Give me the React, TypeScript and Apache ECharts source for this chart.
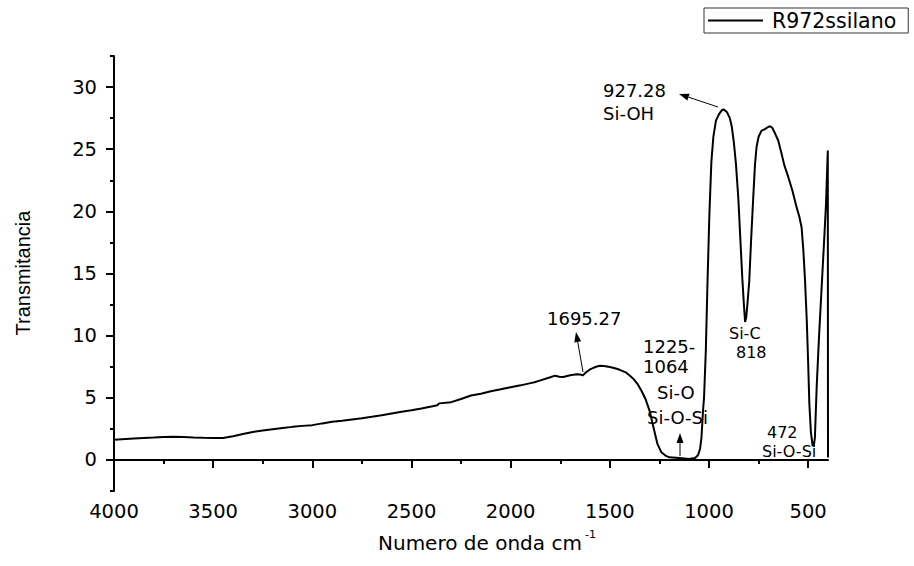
import React, { useEffect, useRef } from "react";
import * as echarts from "echarts";

// Wavenumber (cm-1) and transmittance
const wavenumbers: number[] = [
  4000, 3900, 3800, 3750, 3700, 3650, 3600, 3550, 3500, 3450, 3400, 3350, 3300, 3250, 3200, 3150,
  3100, 3050, 3000, 2950, 2900, 2850, 2800, 2750, 2700, 2650, 2600, 2550, 2500, 2450, 2400, 2370,
  2360, 2300, 2250, 2200, 2150, 2100, 2050, 2000, 1950, 1900, 1880, 1850, 1820, 1800, 1776, 1755,
  1735, 1700, 1667, 1650, 1637, 1620, 1600, 1591, 1570, 1550, 1530, 1500, 1470, 1450, 1420, 1400,
  1380, 1360, 1340, 1320, 1300, 1280, 1260, 1240, 1220, 1200, 1150, 1100, 1070, 1055, 1045, 1038,
  1030, 1025, 1016, 1008, 998, 988, 978, 965, 950, 935, 925, 910, 895, 885, 875, 864,
  852, 842, 832, 824, 818, 812, 806, 797, 788, 777, 768, 760, 750, 735, 720, 705,
  692, 680, 665, 651, 635, 620, 600, 580, 558, 545, 533, 524, 516, 507, 500, 494,
  486, 478, 472, 466, 457, 445, 432, 420, 410, 401, 400,
];
const transmittance: number[] = [
  1.63, 1.72, 1.8, 1.85, 1.86, 1.84, 1.8, 1.78, 1.77, 1.76, 1.9, 2.08, 2.25, 2.36, 2.46, 2.56,
  2.66, 2.74, 2.8, 2.94, 3.07, 3.16, 3.26, 3.36, 3.47, 3.6, 3.74, 3.88, 4.0, 4.14, 4.3, 4.4,
  4.55, 4.65, 4.9, 5.18, 5.33, 5.52, 5.68, 5.85, 6.0, 6.18, 6.25, 6.4, 6.55, 6.65, 6.78, 6.7,
  6.68, 6.82, 6.9, 6.88, 6.8, 7.05, 7.28, 7.35, 7.5, 7.58, 7.55, 7.47, 7.35, 7.25, 7.05, 6.8,
  6.5, 6.1, 5.55, 4.9, 3.97, 2.63, 1.29, 0.61, 0.35, 0.21, 0.16, 0.08, 0.16, 0.4, 0.9, 1.8,
  4.0, 5.0, 8.8, 14.0, 19.8, 24.0, 26.0, 27.3, 27.8, 28.15, 28.2, 28.0, 27.5, 26.8, 25.6, 23.8,
  21.0, 17.8, 14.6, 12.5, 11.1, 11.5, 12.6, 14.4, 17.6, 21.1, 23.8, 25.2, 26.0, 26.5, 26.6, 26.75,
  26.85, 26.7, 26.2, 25.7, 24.7, 23.7, 22.75, 21.7, 20.3, 19.6, 18.7, 16.8, 14.5, 11.2, 7.8, 4.5,
  2.2, 1.2, 1.1, 1.8, 5.9, 10.0, 13.9, 17.5, 20.6, 24.9, 0.2,
];

const seriesName = "R972ssilano";
const xMajorTicks: number[] = [4000, 3500, 3000, 2500, 2000, 1500, 1000, 500];
const xMinorTicks: number[] = [3750, 3250, 2750, 2250, 1750, 1250, 750];
const yMajorTicks: number[] = [0, 5, 10, 15, 20, 25, 30];
const yMinorTicks: number[] = [-2.5, 2.5, 7.5, 12.5, 17.5, 22.5, 27.5, 32.5];

const FONT = "DejaVu Sans";

function arrow(x1: number, y1: number, x2: number, y2: number) {
  const dx = x2 - x1;
  const dy = y2 - y1;
  const len = Math.hypot(dx, dy);
  const ux = dx / len;
  const uy = dy / len;
  const hl = 10;
  const hw = 3.5;
  const bx = x2 - ux * hl;
  const by = y2 - uy * hl;
  const nx = -uy;
  const ny = ux;
  return {
    type: "group",
    children: [
      { type: "line", shape: { x1, y1, x2: bx, y2: by }, style: { stroke: "#000", lineWidth: 1 } },
      {
        type: "polygon",
        shape: { points: [[x2, y2], [bx + nx * hw, by + ny * hw], [bx - nx * hw, by - ny * hw]] },
        style: { fill: "#000" },
      },
    ],
  };
}

function label(text: string, x: number, y: number, size = 18, font = FONT) {
  return {
    type: "text",
    x,
    y,
    style: { text, fill: "#000", font: `${size}px "${font}"`, align: "left", verticalAlign: "middle" },
  };
}

export default function App() {
  const ref = useRef<HTMLDivElement>(null);
  useEffect(() => {
    if (!ref.current) return;
    const chart = echarts.init(ref.current, undefined, { renderer: "svg" });
    const data = wavenumbers.map((w, i) => [w, transmittance[i]]);
    const axisCommon = {
      type: "value",
      splitLine: { show: false },
    };
    chart.setOption({
      animation: false,
      backgroundColor: "#fff",
      grid: { left: 114, right: 86, top: 56, bottom: 75 },
      legend: {
        left: 704,
        top: 8,
        padding: [2, 12, 2, 4],
        borderColor: "#333",
        borderWidth: 1,
        itemWidth: 55,
        itemHeight: 2,
        icon: "rect",
        data: [{ name: seriesName, itemStyle: { color: "#000" } }],
        textStyle: { fontFamily: FONT, fontSize: 20.5, color: "#000", padding: [0, 0, 0, 4] },
      },
      xAxis: [
        {
          ...axisCommon,
          min: 400,
          max: 4000,
          inverse: true,
          position: "bottom",
          axisLine: { show: true, lineStyle: { color: "#000", width: 2 } },
          axisTick: { show: true, length: 8, lineStyle: { color: "#000", width: 2 }, customValues: xMajorTicks },
          axisLabel: {
            color: "#000",
            fontFamily: FONT,
            fontSize: 19.5,
            margin: 10,
            customValues: xMajorTicks,
            formatter: (v: number) => String(v),
          },
        },
        {
          ...axisCommon,
          min: 400,
          max: 4000,
          inverse: true,
          position: "bottom",
          axisLine: { show: false },
          axisTick: { show: true, length: 4, lineStyle: { color: "#000", width: 2 }, customValues: xMinorTicks },
          axisLabel: { show: false },
        },
      ],
      yAxis: [
        {
          ...axisCommon,
          min: -2.5,
          max: 32.5,
          position: "left",
          axisLine: { show: true, lineStyle: { color: "#000", width: 2 } },
          axisTick: { show: true, length: 8, lineStyle: { color: "#000", width: 2 }, customValues: yMajorTicks },
          axisLabel: {
            color: "#000",
            fontFamily: FONT,
            fontSize: 19.5,
            margin: 17,
            customValues: yMajorTicks,
            formatter: (v: number) => String(v),
          },
        },
        {
          ...axisCommon,
          min: -2.5,
          max: 32.5,
          position: "left",
          axisLine: { show: false },
          axisTick: { show: true, length: 4, lineStyle: { color: "#000", width: 2 }, customValues: yMinorTicks },
          axisLabel: { show: false },
        },
      ],
      series: [
        {
          name: seriesName,
          type: "line",
          xAxisIndex: 0,
          yAxisIndex: 0,
          data,
          showSymbol: false,
          symbol: "none",
          lineStyle: { color: "#000", width: 2 },
          itemStyle: { color: "#000" },
        },
      ],
      graphic: [
        {
          type: "text",
          x: 23,
          y: 273,
          rotation: Math.PI / 2,
          style: {
            text: "Transmitancia",
            fill: "#000",
            font: '20px "Liberation Sans"',
            align: "center",
            verticalAlign: "middle",
          },
        },
        label("Numero de onda cm", 378, 543, 20),
        label("-1", 585, 534, 11),
        label("927.28", 603, 90),
        label("Si-OH", 603, 113),
        arrow(718, 107, 679, 94),
        label("1695.27", 547, 318),
        arrow(583, 372, 576, 332),
        label("1225-", 643, 346),
        label("1064", 643, 366),
        label("Si-O", 657, 392),
        label("Si-O-Si", 647, 417),
        arrow(680, 456, 680, 433),
        label("Si-C", 729, 333, 16),
        label("818", 736, 352, 16),
        label("472", 767, 432, 16),
        label("Si-O-Si", 762, 451, 16),
      ],
    });
    return () => chart.dispose();
  }, []);
  return (
    <div
      ref={ref}
      style={{ position: "fixed", left: 0, top: 0, width: 914, height: 566, background: "#fff" }}
    />
  );
}
